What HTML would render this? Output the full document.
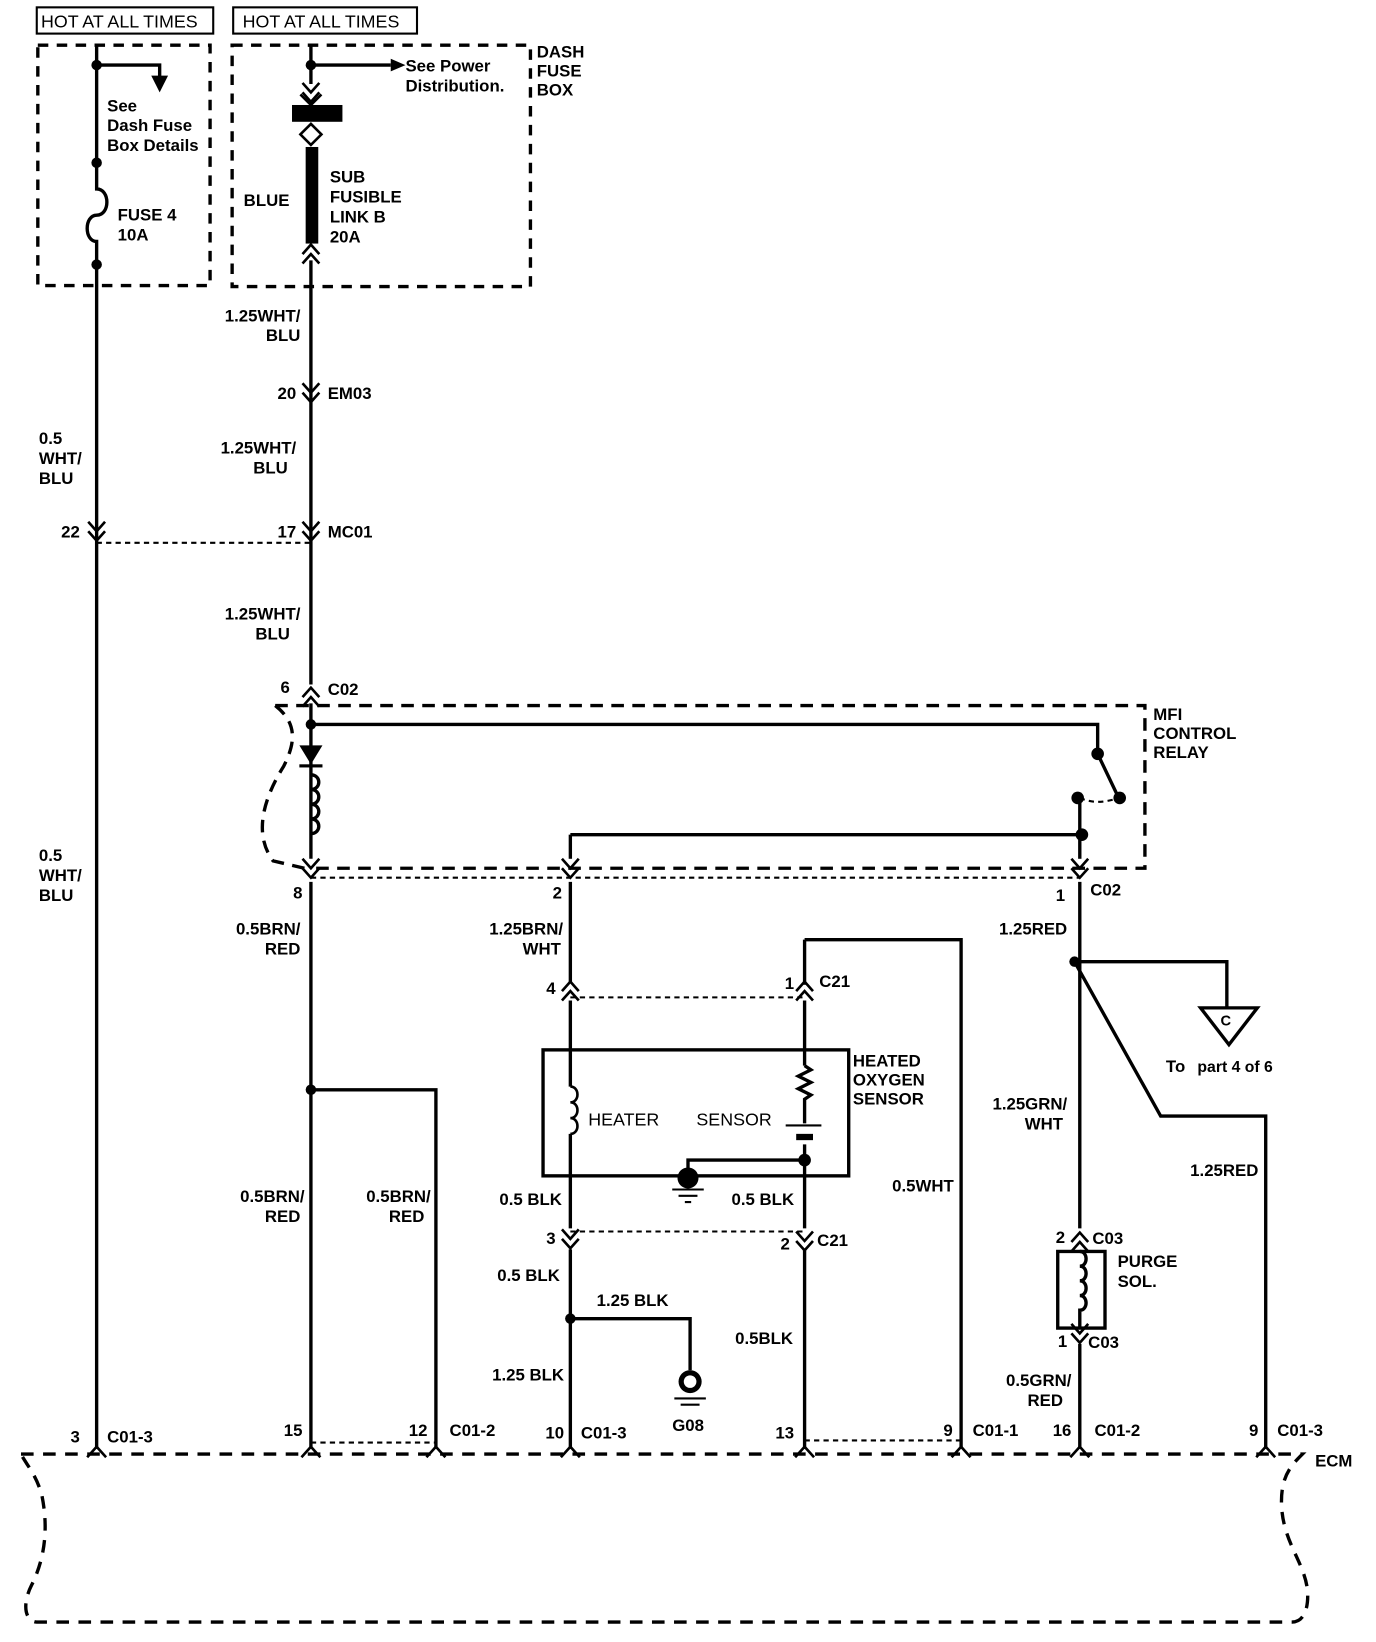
<!DOCTYPE html>
<html><head><meta charset="utf-8"><style>
html,body{margin:0;padding:0;background:#fff;}
svg{display:block;}
text{font-family:"Liberation Sans",Arial,sans-serif;font-weight:bold;font-size:16px;fill:#000;}
</style></head><body>
<svg width="1376" height="1642" viewBox="0 0 1310 1564" preserveAspectRatio="none" xmlns="http://www.w3.org/2000/svg">
<defs>
<g id="vd"><path d="M-8,-7 L0,2 L8,-7 M-8,2 L0,11 L8,2" fill="none" stroke="#000" stroke-width="2.5"/></g>
<g id="vu"><path d="M-8,7 L0,-2 L8,7 M-8,-2 L0,-11 L8,-2" fill="none" stroke="#000" stroke-width="2.5"/></g>
<g id="bu"><path d="M-9,8 L0,-2 L9,8" fill="none" stroke="#000" stroke-width="2.5"/></g>
</defs>
<g fill="none" stroke="#000" stroke-width="3.2">
<rect x="35" y="7" width="168" height="25" stroke-width="2"/>
<rect x="222" y="7" width="175" height="25" stroke-width="2"/>
<rect x="36" y="43" width="164" height="229" stroke-dasharray="10,8"/>
<rect x="221" y="43" width="284" height="230" stroke-dasharray="10,8"/>
<path d="M92,42 V180 C105,180 105,205 92,205 C80,205 80,230 92,230 V1380"/>
<path d="M92,62 H152 V78"/>
<path d="M296,42 V80"/>
<path d="M296,62 H372"/>
<path d="M296,248 V652"/>
<path d="M296,670 V818"/>
<path d="M92,517 H296" stroke-dasharray="5,4" stroke-width="2"/>
<path d="M262,672 H1090 V827 H296" stroke-dasharray="12,8"/>
<path d="M262,672 C285,690 280,710 270,730 C245,770 245,800 260,820 L290,827" stroke-dasharray="12,8"/>
<path d="M296,690 H1045 V718 L1065,760"/>
<path d="M1028,760 C1040,765 1050,765 1065,760" stroke-dasharray="5,4" stroke-width="2"/>
<path d="M1028,760 V818"/>
<path d="M543,795 H1030"/>
<path d="M543,795 V818"/>
<path d="M296,836 H1028" stroke-dasharray="5,4" stroke-width="2"/>
<path d="M296,738 c10,0 10,14 0,14 c10,0 10,14 0,14 c10,0 10,14 0,14 c10,0 10,14 0,14"/>
<path d="M296,840 V1380"/>
<path d="M296,1038 H415 V1380"/>
<path d="M543,840 V936"/>
<path d="M543,953 V1035"/>
<path d="M543,1080 V1170"/>
<path d="M543,1190 V1380"/>
<path d="M543,950 H766" stroke-dasharray="5,4" stroke-width="2"/>
<path d="M766,895 H915 V1380"/>
<path d="M766,895 V938"/>
<path d="M766,953 V1015"/>
<path d="M766,1015 l6,4 l-12,6 l12,6 l-12,6 l12,6 l-6,4 V1070"/>
<path d="M748,1072 H782" stroke-width="2"/>
<path d="M766,1090 V1170"/>
<path d="M766,1190 V1380"/>
<path d="M543,1173 H766" stroke-dasharray="5,4" stroke-width="2"/>
<path d="M543,1256 H657 V1305"/>
<path d="M766,1372 H915" stroke-dasharray="5,4" stroke-width="2"/>
<path d="M296,1374 H415" stroke-dasharray="5,4" stroke-width="2"/>
<path d="M543,1035 c9,0 9,15 0,15 c9,0 9,15 0,15 c9,0 9,15 0,15" stroke-width="2.5"/>
<rect x="517" y="1000" width="291" height="120"/>
<path d="M655,1120 V1105 H766"/>
<path d="M1028,840 V1170"/>
<path d="M1023,916 H1168 V960"/>
<path d="M1023,916 L1105,1063 H1205 V1380"/>
<path d="M1143,960 H1197 L1170,995 Z"/>
<rect x="1007" y="1192" width="45" height="73"/>
<path d="M1028,1192 c8,0 8,14 0,14 c8,0 8,14 0,14 c8,0 8,14 0,14 c8,0 8,14 0,14 V1265"/>
<path d="M1028,1280 V1380"/>
<path d="M20,1385 H1240 C1230,1395 1220,1405 1220,1430 C1220,1470 1245,1490 1245,1520 C1245,1535 1240,1545 1230,1545 H35 C25,1545 20,1530 30,1510 C45,1480 45,1450 40,1425 C35,1405 25,1395 20,1385" stroke-dasharray="12,9"/>
</g>
<g fill="#000">
<circle cx="92" cy="62" r="5"/><circle cx="92" cy="155" r="5"/><circle cx="92" cy="252" r="5"/>
<circle cx="296" cy="62" r="5"/>
<path d="M144,72 H160 L152,88 Z"/>
<path d="M372,56 L386,62 L372,68 Z"/>
<rect x="278" y="100" width="48" height="16"/>
<rect x="291" y="140" width="12" height="92"/>
<path d="M285,710 H307 L296,728 Z"/><rect x="285" y="728" width="22" height="3"/>
<circle cx="296" cy="690" r="5"/>
<circle cx="1045" cy="718" r="6"/><circle cx="1066" cy="760" r="6"/><circle cx="1026" cy="760" r="6"/><circle cx="1030" cy="795" r="6"/>
<circle cx="296" cy="1038" r="5"/><circle cx="543" cy="1256" r="5"/><circle cx="1023" cy="916" r="5"/>
<circle cx="766" cy="1105" r="6"/>
<rect x="758" y="1080" width="16" height="6"/>
<circle cx="655" cy="1122" r="10"/>
<circle cx="657" cy="1316" r="11"/>
</g>
<circle cx="657" cy="1316" r="6" fill="#fff"/>
<path d="M640,1133 H670 M646,1139 H664 M652,1145 H658 M642,1332 H672 M648,1338 H666" stroke="#000" stroke-width="2"/>
<path d="M296,118 L286,128 L296,138 L306,128 Z M296,100 L286,90 M296,100 L306,90" fill="none" stroke="#000" stroke-width="2.5"/>
<use href="#vd" x="296" y="86"/>
<use href="#vu" x="296" y="244"/>
<use href="#vd" x="296" y="372"/>
<use href="#vd" x="92" y="504"/>
<use href="#vd" x="296" y="504"/>
<use href="#vu" x="296" y="666"/>
<use href="#vd" x="296" y="825"/>
<use href="#vd" x="543" y="825"/>
<use href="#vd" x="1028" y="825"/>
<use href="#vu" x="543" y="946"/>
<use href="#vu" x="766" y="946"/>
<use href="#vd" x="543" y="1178"/>
<use href="#vd" x="766" y="1180"/>
<use href="#vu" x="1028" y="1185"/>
<use href="#vd" x="1028" y="1268"/>
<use href="#bu" x="92" y="1380"/><use href="#bu" x="296" y="1380"/><use href="#bu" x="415" y="1380"/>
<use href="#bu" x="543" y="1380"/><use href="#bu" x="766" y="1380"/><use href="#bu" x="915" y="1380"/>
<use href="#bu" x="1028" y="1380"/><use href="#bu" x="1205" y="1380"/>
<g style="font-weight:normal">
<text x="39" y="26" style="font-size:17px;font-weight:normal">HOT AT ALL TIMES</text>
<text x="231" y="26" style="font-size:17px;font-weight:normal">HOT AT ALL TIMES</text>
</g>
<text x="102" y="106">See</text><text x="102" y="125">Dash Fuse</text><text x="102" y="144">Box Details</text>
<text x="112" y="210">FUSE 4</text><text x="112" y="229">10A</text>
<text x="386" y="68">See Power</text><text x="386" y="87">Distribution.</text>
<text x="511" y="55">DASH</text><text x="511" y="73">FUSE</text><text x="511" y="91">BOX</text>
<text x="232" y="196">BLUE</text>
<text x="314" y="174">SUB</text><text x="314" y="193">FUSIBLE</text><text x="314" y="212">LINK B</text><text x="314" y="231">20A</text>
<text x="286" y="306" text-anchor="end">1.25WHT/</text><text x="286" y="325" text-anchor="end">BLU</text>
<text x="282" y="380" text-anchor="end">20</text><text x="312" y="380">EM03</text>
<text x="282" y="432" text-anchor="end">1.25WHT/</text><text x="274" y="451" text-anchor="end">BLU</text>
<text x="37" y="423">0.5</text><text x="37" y="442">WHT/</text><text x="37" y="461">BLU</text>
<text x="76" y="512" text-anchor="end">22</text>
<text x="282" y="512" text-anchor="end">17</text><text x="312" y="512">MC01</text>
<text x="286" y="590" text-anchor="end">1.25WHT/</text><text x="276" y="609" text-anchor="end">BLU</text>
<text x="276" y="660" text-anchor="end">6</text><text x="312" y="662">C02</text>
<text x="1098" y="686">MFI</text><text x="1098" y="704">CONTROL</text><text x="1098" y="722">RELAY</text>
<text x="37" y="820">0.5</text><text x="37" y="839">WHT/</text><text x="37" y="858">BLU</text>
<text x="288" y="856" text-anchor="end">8</text>
<text x="535" y="856" text-anchor="end">2</text>
<text x="1014" y="858" text-anchor="end">1</text><text x="1038" y="853">C02</text>
<text x="286" y="890" text-anchor="end">0.5BRN/</text><text x="286" y="909" text-anchor="end">RED</text>
<text x="536" y="890" text-anchor="end">1.25BRN/</text><text x="534" y="909" text-anchor="end">WHT</text>
<text x="1016" y="890" text-anchor="end">1.25RED</text>
<text x="529" y="947" text-anchor="end">4</text>
<text x="756" y="942" text-anchor="end">1</text><text x="780" y="940">C21</text>
<text x="1162" y="977" style="font-size:14px">C</text>
<text x="1110" y="1021">To</text><text x="1140" y="1021" style="font-size:15px">part 4 of 6</text>
<text x="812" y="1016">HEATED</text><text x="812" y="1034">OXYGEN</text><text x="812" y="1052">SENSOR</text>
<text x="560" y="1072" style="font-weight:normal;font-size:17px">HEATER</text>
<text x="663" y="1072" style="font-weight:normal;font-size:17px">SENSOR</text>
<text x="1016" y="1057" text-anchor="end">1.25GRN/</text><text x="1012" y="1076" text-anchor="end">WHT</text>
<text x="1198" y="1120" text-anchor="end">1.25RED</text>
<text x="290" y="1145" text-anchor="end">0.5BRN/</text><text x="286" y="1164" text-anchor="end">RED</text>
<text x="410" y="1145" text-anchor="end">0.5BRN/</text><text x="404" y="1164" text-anchor="end">RED</text>
<text x="535" y="1148" text-anchor="end">0.5 BLK</text>
<text x="756" y="1148" text-anchor="end">0.5 BLK</text>
<text x="908" y="1135" text-anchor="end">0.5WHT</text>
<text x="529" y="1185" text-anchor="end">3</text>
<text x="752" y="1190" text-anchor="end">2</text><text x="778" y="1187">C21</text>
<text x="1014" y="1184" text-anchor="end">2</text><text x="1040" y="1185">C03</text>
<text x="1064" y="1207">PURGE</text><text x="1064" y="1226">SOL.</text>
<text x="533" y="1220" text-anchor="end">0.5 BLK</text>
<text x="568" y="1244">1.25 BLK</text>
<text x="755" y="1280" text-anchor="end">0.5BLK</text>
<text x="1016" y="1283" text-anchor="end">1</text><text x="1036" y="1284">C03</text>
<text x="537" y="1315" text-anchor="end">1.25 BLK</text>
<text x="1020" y="1320" text-anchor="end">0.5GRN/</text><text x="1012" y="1339" text-anchor="end">RED</text>
<text x="640" y="1363">G08</text>
<text x="76" y="1374" text-anchor="end">3</text><text x="102" y="1374">C01-3</text>
<text x="288" y="1368" text-anchor="end">15</text>
<text x="407" y="1368" text-anchor="end">12</text><text x="428" y="1368">C01-2</text>
<text x="537" y="1370" text-anchor="end">10</text><text x="553" y="1370">C01-3</text>
<text x="756" y="1370" text-anchor="end">13</text>
<text x="907" y="1368" text-anchor="end">9</text><text x="926" y="1368">C01-1</text>
<text x="1020" y="1368" text-anchor="end">16</text><text x="1042" y="1368">C01-2</text>
<text x="1198" y="1368" text-anchor="end">9</text><text x="1216" y="1368">C01-3</text>
<text x="1252" y="1397">ECM</text>
</svg>
</body></html>
